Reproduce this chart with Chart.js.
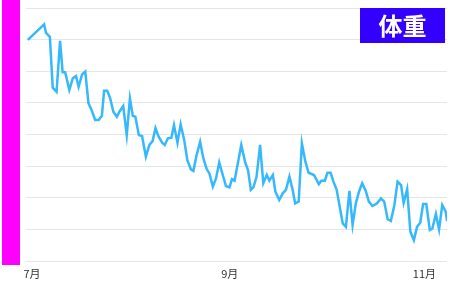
<!DOCTYPE html>
<html>
<head>
<meta charset="utf-8">
<script src="https://cdn.jsdelivr.net/npm/chart.js@4"></script>
<style>
html,body{margin:0;padding:0;background:#fff;}
#wrap{width:450px;height:283px;position:relative;}
</style>
</head>
<body>
<div id="wrap"><canvas id="c" width="450" height="283"></canvas></div>
<script>
// Days since 1 July
const days = [-1.3,3.8,4.4,5.6,6.5,7.7,8.8,9.6,10.4,11.7,12.8,13.8,14.6,15.7,16.7,17.7,18.7,19.8,20.9,21.9,22.6,23.6,24.5,25.5,26.6,27.4,28.6,29.7,30.7,31.6,32.4,33.5,34.5,35.7,36.8,37.8,38.7,39.7,40.8,41.6,42.6,43.7,44.5,45.6,46.6,47.7,48.7,49.8,50.6,51.6,52.7,53.7,54.8,55.6,56.7,57.7,58.7,59.8,60.8,61.9,62.7,63.5,65.6,66.9,67.7,68.6,69.4,70.4,71.5,72.5,73.6,74.4,75.5,76.3,77.5,78.6,79.6,80.7,81.7,82.5,83.6,84.6,85.7,86.7,88.4,89.9,90.7,91.8,92.6,93.6,94.5,95.5,97.4,98.4,99.5,100.5,101.5,102.5,103.5,104.6,105.6,106.7,108.1,109.4,110.4,111.5,112.5,113.6,114.6,115.7,116.5,117.6,118.6,119.7,120.7,121.7,122.6,123.6,124.7,125.5,126.6,127.6,128.6,129.7,130.1];
// Weight (kg)
const weights = [66.99,67.48,67.21,67.09,65.48,65.35,66.96,65.97,65.97,65.41,65.78,65.85,65.51,65.90,65.99,64.99,64.77,64.46,64.46,64.59,65.38,65.38,65.15,64.72,64.56,64.72,64.90,63.98,65.14,64.59,64.56,63.98,63.95,63.30,63.67,63.79,64.20,63.93,63.74,63.67,63.88,63.90,64.30,63.74,64.32,63.83,63.19,62.90,62.85,63.35,63.77,63.25,62.90,62.77,62.35,62.62,63.12,62.72,62.37,62.33,62.59,62.54,63.67,63.09,62.88,62.25,62.33,62.67,63.67,62.46,62.72,62.54,62.72,62.19,61.93,62.14,62.25,62.67,62.25,61.82,61.88,63.72,63.14,62.79,62.72,62.43,62.54,62.54,62.79,62.79,62.51,62.25,61.19,61.08,62.22,61.14,61.82,62.19,62.46,62.22,61.88,61.74,61.82,61.98,61.88,61.32,61.27,61.77,62.51,62.40,61.84,62.27,60.93,60.66,61.08,61.21,61.80,61.80,60.98,61.03,61.49,61.00,61.77,61.56,61.26];
const tickDays = [0, 62, 123];
const tickLabels = ['7月', '9月', '11月'];
const titleText = '体重';

const points = days.map((d, i) => ({x: d, y: weights[i]}));

const decor = {
  id: 'decor',
  beforeDraw(chart) {
    const ctx = chart.ctx;
    ctx.save();
    ctx.fillStyle = '#ff00ff';
    ctx.fillRect(2, 0, 18, 265);
    ctx.restore();
  },
  afterDraw(chart) {
    const ctx = chart.ctx;
    ctx.save();
    ctx.fillStyle = '#3300ff';
    ctx.fillRect(360, 8, 85, 35);
    ctx.fillStyle = '#ffffff';
    ctx.font = 'bold 24px "Noto Sans CJK JP"';
    ctx.textAlign = 'center';
    ctx.textBaseline = 'middle';
    ctx.fillText(titleText, 402.5, 26);
    ctx.restore();
  }
};

new Chart(document.getElementById('c'), {
  type: 'line',
  data: {
    datasets: [{
      data: points,
      borderColor: '#36b8fc',
      borderWidth: 2.5,
      pointRadius: 0,
      tension: 0,
      fill: false
    }]
  },
  options: {
    responsive: false,
    animation: false,
    layout: {padding: {left: 26, right: 3, top: 8, bottom: 0}},
    plugins: {legend: {display: false}, title: {display: false}, tooltip: {enabled: false}},
    scales: {
      x: {
        type: 'linear',
        min: -1.88,
        max: 130.09,
        grid: {display: false, drawTicks: false, tickLength: 0},
        border: {display: false},
        afterBuildTicks(scale) { scale.ticks = tickDays.map(v => ({value: v})); },
        afterFit(scale) { scale.height = 22; },
        ticks: {
          autoSkip: false,
          maxRotation: 0,
          padding: 6,
          color: '#333',
          font: {size: 11, family: '"Noto Sans CJK JP"'},
          callback(v) { const i = tickDays.indexOf(v); return i >= 0 ? tickLabels[i] : ''; }
        }
      },
      y: {
        min: 60,
        max: 68,
        ticks: {display: false, stepSize: 1},
        grid: {color: '#e6e6e6', lineWidth: 1, drawTicks: false, tickLength: 0},
        border: {display: false}
      }
    }
  },
  plugins: [decor]
});
</script>
</body>
</html>
